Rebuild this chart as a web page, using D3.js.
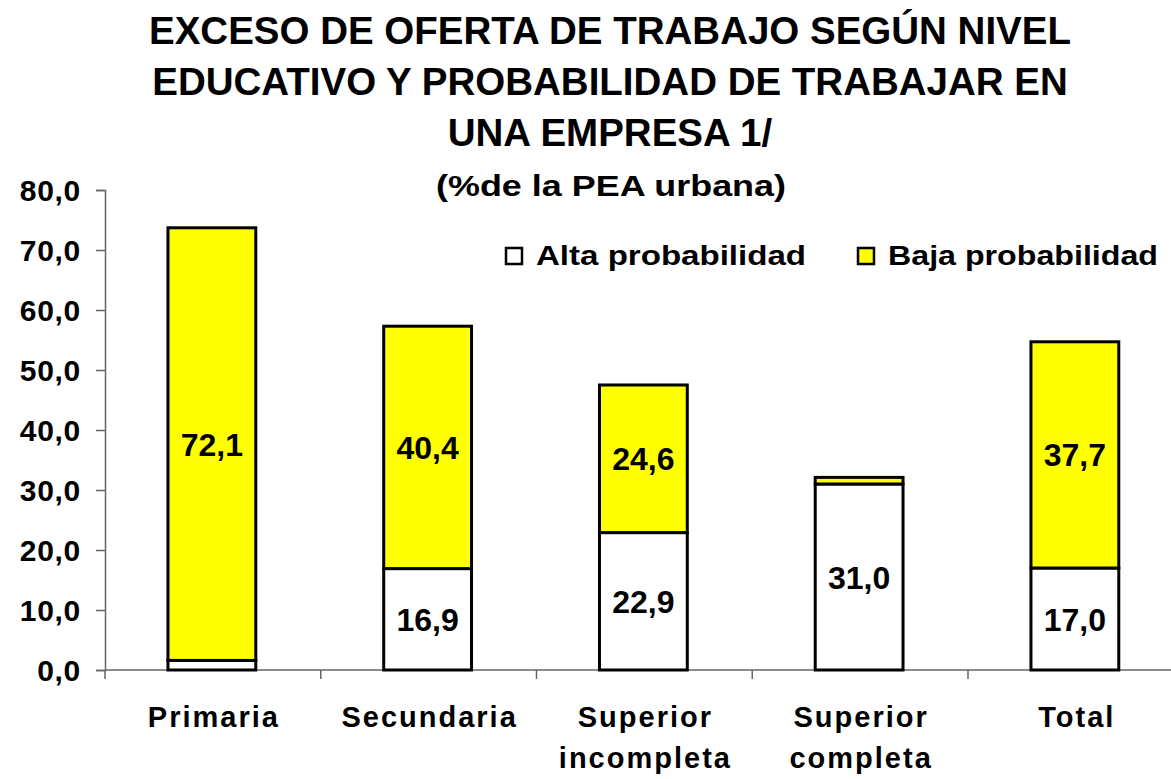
<!DOCTYPE html>
<html><head><meta charset="utf-8">
<script src="https://cdn.jsdelivr.net/npm/d3@7"></script>
<style>body{margin:0;background:#fff}svg{display:block;font-family:"Liberation Sans",Arial,sans-serif;font-weight:bold}</style>
</head><body>
<script>
const categories = [["Primaria"],["Secundaria"],["Superior","incompleta"],["Superior","completa"],["Total"]];
const alta = [1.6, 16.9, 22.9, 31.0, 17.0];
const baja = [72.1, 40.4, 24.6, 1.1, 37.7];
const altaLabels = ["", "16,9", "22,9", "31,0", "17,0"];
const bajaLabels = ["72,1", "40,4", "24,6", "", "37,7"];
const yTicks = [0,10,20,30,40,50,60,70,80];
const titleLines = ["EXCESO DE OFERTA DE TRABAJO SEGÚN NIVEL","EDUCATIVO Y PROBABILIDAD DE TRABAJAR EN","UNA EMPRESA 1/"];
const subtitle = "(%de la PEA urbana)";
const seriesNames = ["Alta probabilidad","Baja probabilidad"];
const colors = ["#ffffff","#ffff00"];

const W=1171,H=779;
const svg=d3.select("body").append("svg").attr("width",W).attr("height",H);
const x0=105, step=215.75;
const x=d3.scaleBand().domain(d3.range(categories.length)).range([x0,x0+step*categories.length]).paddingInner(0.593).paddingOuter(0.2965);
const y=d3.scaleLinear().domain([0,80]).range([670,190]);

// title
svg.selectAll("text.title").data(titleLines).join("text").attr("class","title")
 .attr("x",610).attr("y",(d,i)=>[44,95,146][i]).attr("text-anchor","middle").attr("font-size",38.5).text(d=>d);
svg.append("text").attr("x",611).attr("y",196).attr("text-anchor","middle").attr("font-size",30)
 .attr("textLength",350).attr("lengthAdjust","spacingAndGlyphs").text(subtitle);

// y axis
const yAxis=d3.axisLeft(y).tickValues(yTicks).tickSize(9).tickFormat(d=>d3.format(".1f")(d).replace(".",","));
const ga=svg.append("g").attr("transform",`translate(${x0},0)`).call(yAxis);
ga.select(".domain").attr("stroke","#666").attr("stroke-width",1.5);
ga.selectAll(".tick line").attr("stroke","#666").attr("stroke-width",1.5);
ga.selectAll(".tick text").attr("font-size",30).attr("font-family","Liberation Sans, Arial").attr("font-weight","bold")
 .attr("fill","#000").attr("x",-24).attr("dy","0.36em").attr("letter-spacing",0.7);

// x axis
svg.append("line").attr("x1",x0).attr("x2",W).attr("y1",y(0)).attr("y2",y(0)).attr("stroke","#666").attr("stroke-width",1.5);
svg.selectAll("line.xt").data(d3.range(categories.length+1)).join("line").attr("class","xt")
 .attr("x1",d=>x0+d*step).attr("x2",d=>x0+d*step).attr("y1",y(0)).attr("y2",y(0)+9).attr("stroke","#666").attr("stroke-width",1.5);

// bars
const bw=x.bandwidth();
categories.forEach((c,i)=>{
  const xx=x(i)-1;
  svg.append("rect").attr("x",xx).attr("y",y(alta[i])).attr("width",bw).attr("height",y(0)-y(alta[i]))
    .attr("fill",colors[0]).attr("stroke","#000").attr("stroke-width",3);
  svg.append("rect").attr("x",xx).attr("y",y(alta[i]+baja[i])).attr("width",bw).attr("height",y(alta[i])-y(alta[i]+baja[i]))
    .attr("fill",colors[1]).attr("stroke","#000").attr("stroke-width",3);
  if(altaLabels[i]) svg.append("text").attr("x",xx+bw/2).attr("y",(y(0)+y(alta[i]))/2).attr("dy","0.36em").attr("text-anchor","middle").attr("font-size",32).text(altaLabels[i]);
  if(bajaLabels[i]) svg.append("text").attr("x",xx+bw/2).attr("y",(y(alta[i])+y(alta[i]+baja[i]))/2).attr("dy","0.36em").attr("text-anchor","middle").attr("font-size",32).text(bajaLabels[i]);
  const t=svg.append("text").attr("y",727).attr("text-anchor","middle").attr("font-size",29).attr("letter-spacing",2);
  c.forEach((l,j)=>t.append("tspan").attr("x",xx+bw/2+2).attr("dy",j?41:0).text(l));
});

// legend
const lx=[506,858];
seriesNames.forEach((n,i)=>{
  svg.append("rect").attr("x",lx[i]).attr("y",248).attr("width",16).attr("height",16).attr("fill",colors[i]).attr("stroke","#000").attr("stroke-width",2.5);
  svg.append("text").attr("x",lx[i]+30).attr("y",265).attr("font-size",27).attr("textLength",270).attr("lengthAdjust","spacingAndGlyphs").text(n);
});
</script>
</body></html>
